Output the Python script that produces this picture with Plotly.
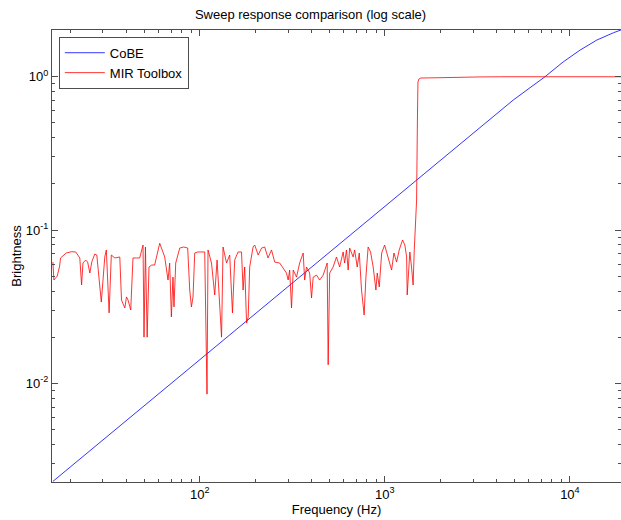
import plotly.graph_objects as go
import numpy as np

# CoBE (blue) brightness curve
cobe_freq = [16.1, 100, 1000, 3700, 4943, 7330, 9204, 11324, 13970, 17180, 18880]
cobe_val = [0.00229, 0.01426, 0.1426, 0.527, 0.705, 1.0, 1.25, 1.49, 1.735, 1.936, 2.02]

# MIR Toolbox (red) brightness curve
mir_freq = [16.1, 16.3, 17.0, 17.5, 17.7, 18.2, 19.0, 20.3, 21.4, 22.5, 23.0, 23.4, 24.2, 24.8,
            25.5, 26.1, 27.1, 27.8, 28.8, 29.4, 30.7, 31.3, 32.4, 33.3, 34.8, 37.0, 37.8, 39.4,
            40.2, 41.0, 42.4, 43.6, 45.7, 47.4, 49.4, 50.0, 50.9, 52.0, 53.2, 55.1, 57.1, 60.8,
            64.7, 67.4, 68.8, 70.3, 71.7, 72.6, 74.2, 78.0, 82.0, 86.1, 88.3, 90.2, 92.0, 94.0,
            97.6, 102.6, 106.4, 109.5, 110.9, 115.8, 120.5, 124.1, 131.2, 133.7, 139.6, 145.2,
            150.3, 154.5, 161.1, 168.2, 171.5, 175.0, 179.1, 182.8, 186.2, 194.2, 198.2, 207.0,
            216.0, 224.4, 233.9, 244.3, 254.1, 270.4, 281.8, 294.2, 300.5, 306.2, 313.3, 320.0,
            333.4, 346.7, 362.2, 369.0, 377.6, 392.6, 401.8, 410.2, 427.7, 444.6, 464.5, 488.2,
            494.3, 503.5, 526.0, 548.0, 570.2, 595.6, 606.7, 620.8, 634.0, 645.7, 674.5, 687.1,
            709.5, 727.8, 748.5, 773.3, 790.4, 812.8, 837.5, 865.0, 895.4, 909.9, 933.3, 961.6,
            997.7, 1026, 1056, 1088, 1120, 1158, 1196, 1247, 1283, 1312, 1321, 1343, 1365, 1394,
            1422, 1441, 1466, 1485, 1500, 1510, 1528, 1567, 1753, 2239, 3266, 4169, 18880]
mir_val = [0.0618, 0.0472, 0.0501, 0.0582, 0.0657, 0.0677, 0.0708, 0.0722, 0.0719, 0.0657, 0.0438,
           0.0609, 0.0637, 0.0618, 0.0524, 0.0618, 0.0697, 0.0687, 0.0418, 0.0339, 0.0667, 0.0741,
           0.0288, 0.0687, 0.0657, 0.0667, 0.0349, 0.0310, 0.0366, 0.0349, 0.0301, 0.0657, 0.0657,
           0.0657, 0.0798, 0.0200, 0.0775, 0.0200, 0.0574, 0.0591, 0.0591, 0.0820, 0.0667, 0.0472,
           0.0609, 0.0271, 0.0493, 0.0315, 0.0609, 0.0763, 0.0775, 0.0763, 0.0406, 0.0315, 0.0366,
           0.0708, 0.0719, 0.0719, 0.0719, 0.0085, 0.0741, 0.0609, 0.0377, 0.0637, 0.0200, 0.0775,
           0.0609, 0.0687, 0.0288, 0.0637, 0.0719, 0.0719, 0.0406, 0.0574, 0.0247, 0.0271, 0.0574,
           0.0775, 0.0798, 0.0687, 0.0763, 0.0775, 0.0657, 0.0741, 0.0618, 0.0609, 0.0565, 0.0524,
           0.0472, 0.0548, 0.0310, 0.0548, 0.0493, 0.0609, 0.0708, 0.0472, 0.0574, 0.0524, 0.0360,
           0.0493, 0.0508, 0.0472, 0.0508, 0.0609, 0.0132, 0.0524, 0.0574, 0.0667, 0.0574, 0.0719,
           0.0609, 0.0741, 0.0548, 0.0763, 0.0667, 0.0741, 0.0574, 0.0708, 0.0406, 0.0279, 0.0493,
           0.0775, 0.0719, 0.0574, 0.0406, 0.0524, 0.0425, 0.0708, 0.0798, 0.0708, 0.0637, 0.0548,
           0.0708, 0.0618, 0.0741, 0.0861, 0.0798, 0.0667, 0.0377, 0.0574, 0.0719, 0.0574, 0.0438,
           0.0719, 0.1046, 0.157, 0.522, 0.923, 0.966, 0.981, 0.983, 0.992, 0.997, 1.0, 1.0]

x_major = [100, 1000, 10000]
x_major_text = ["10<sup>2</sup>", "10<sup>3</sup>", "10<sup>4</sup>"]
y_major = [0.01, 0.1, 1]
y_major_text = ["10<sup>-2</sup>", "10<sup>-1</sup>", "10<sup>0</sup>"]
x_minor = [m * 10 ** e for e in range(1, 5) for m in range(2, 10) if 16 <= m * 10 ** e <= 18880]
y_minor = [m * 10.0 ** e for e in range(-3, 1) for m in range(2, 10) if 0.0023 <= m * 10.0 ** e <= 2.02]

X_RANGE = [np.log10(15.92), np.log10(18880)]
Y_RANGE = [-2.644, 0.305]

FONT = "Liberation Sans, Arial, Helvetica, sans-serif"
AXC = "#4d4d4d"

fig = go.Figure()
fig.add_trace(go.Scatter(x=cobe_freq, y=cobe_val, mode="lines", name="CoBE",
                         line=dict(color="#0000ff", width=0.8)))
fig.add_trace(go.Scatter(x=mir_freq, y=mir_val, mode="lines", name="MIR Toolbox",
                         line=dict(color="#ff0000", width=0.8)))

axis_common = dict(showgrid=False, zeroline=False, showline=True, linecolor=AXC, linewidth=1,
                   mirror="ticks", ticks="inside", tickcolor=AXC, tickwidth=1,
                   tickfont=dict(family=FONT, size=13, color="#000000"),
                   title_font=dict(family=FONT, size=13, color="#000000"))

fig.update_layout(
    xaxis=dict(type="log", range=X_RANGE, tickmode="array", tickvals=x_major,
               ticktext=x_major_text, ticklen=6,
               title=dict(text="Frequency (Hz)", standoff=4), **axis_common),
    yaxis=dict(type="log", range=Y_RANGE, tickmode="array", tickvals=y_major,
               ticktext=y_major_text, ticklen=6,
               title=dict(text="Brightness", standoff=1), **axis_common),
    # minor ticks on overlaid axes
    xaxis2=dict(type="log", range=X_RANGE, overlaying="x", anchor="y", side="bottom",
                tickmode="array", tickvals=x_minor, ticklen=3, showticklabels=False,
                showgrid=False, zeroline=False, showline=False, mirror="ticks",
                ticks="inside", tickcolor=AXC, tickwidth=1),
    yaxis2=dict(type="log", range=Y_RANGE, overlaying="y", anchor="x", side="left",
                tickmode="array", tickvals=y_minor, ticklen=3, showticklabels=False,
                showgrid=False, zeroline=False, showline=False, mirror="ticks",
                ticks="inside", tickcolor=AXC, tickwidth=1),
)
fig.add_trace(go.Scatter(x=[cobe_freq[0]], y=[cobe_val[0]], xaxis="x2", yaxis="y2",
                         mode="markers", marker=dict(opacity=0), showlegend=False,
                         hoverinfo="skip"))

fig.update_layout(
    width=621, height=520,
    margin=dict(l=52, r=0, t=30, b=38),
    paper_bgcolor="white", plot_bgcolor="white",
    title=dict(text="Sweep response comparison (log scale)", x=0.5, xanchor="center",
               y=0.972, yanchor="middle", font=dict(family=FONT, size=13, color="#000000")),
    legend=dict(x=0.012, y=0.985, xanchor="left", yanchor="top", bgcolor="white",
                bordercolor=AXC, borderwidth=1, font=dict(family=FONT, size=13, color="#000000"),
                tracegroupgap=0, itemwidth=40),
    showlegend=True,
)

fig.write_html("out.html")
